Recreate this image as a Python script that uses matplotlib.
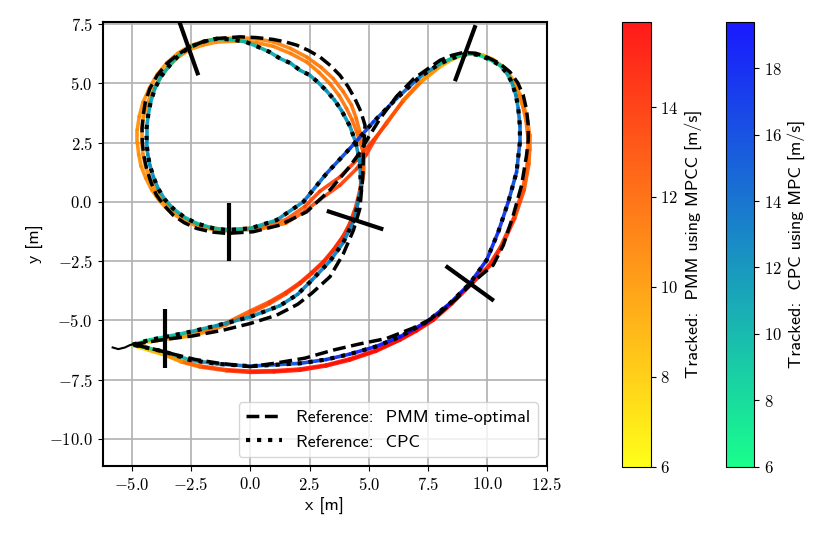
import numpy as np
import matplotlib
matplotlib.use("Agg")
import matplotlib.pyplot as plt
from matplotlib.collections import LineCollection
from matplotlib.lines import Line2D
from matplotlib.ticker import MultipleLocator, FuncFormatter

plt.rcParams['font.family'] = ['cmss10', 'DejaVu Sans']
plt.rcParams['mathtext.fontset'] = 'cm'
plt.rcParams['font.size'] = 13

# --- reference trajectories ---
pmm_ref_x = [-4.95, -4.23, -3.60, -2.40, -1.14, 0.00, 1.11, 2.00, 2.60, 3.36,
             3.92, 4.35, 4.62, 4.74, 4.78, 4.84, 4.66, 4.41, 4.12, 3.78,
             3.38, 2.94, 2.45, 1.96, 1.47, 0.97, 0.25, -0.43, -1.42, -2.00,
             -2.54, -3.05, -3.52, -3.92, -4.23, -4.42, -4.51, -4.56, -4.55, -4.49,
             -4.37, -4.19, -3.95, -3.63, -3.25, -2.78, -2.26, -1.63, -0.99, 0.13,
             1.25, 2.38, 3.36, 4.13, 4.60, 5.00, 5.50, 6.17, 6.90, 8.00,
             8.50, 8.98, 9.50, 9.97, 10.50, 10.95, 11.28, 11.51, 11.65, 11.72,
             11.72, 11.65, 11.44, 11.09, 10.67, 10.24, 9.35, 8.70, 7.86, 6.87,
             5.75, 4.62, 3.50, 2.31, 1.07, 0.00, -1.35, -2.30, -3.25, -4.23,
             -4.95]
pmm_ref_y = [-6.02, -5.90, -5.80, -5.65, -5.41, -5.13, -4.78, -4.32, -3.85, -3.16,
             -2.20, -1.20, -0.30, 1.00, 2.20, 3.23, 3.82, 4.36, 4.87, 5.34,
             5.75, 6.11, 6.39, 6.61, 6.75, 6.85, 6.93, 6.96, 6.89, 6.75,
             6.53, 6.22, 5.83, 5.33, 4.78, 4.22, 3.66, 3.10, 2.53, 1.97,
             1.41, 0.84, 0.28, -0.15, -0.56, -0.88, -1.12, -1.27, -1.33, -1.26,
             -0.98, -0.42, 0.50, 1.41, 2.05, 2.75, 3.55, 4.45, 5.20, 5.97,
             6.18, 6.30, 6.27, 6.11, 5.85, 5.48, 5.02, 4.50, 3.88, 3.23,
             2.60, 1.97, 0.70, -0.56, -1.83, -2.67, -3.42, -4.07, -4.82, -5.32,
             -5.76, -5.99, -6.25, -6.59, -6.80, -6.95, -6.80, -6.65, -6.42, -6.17,
             -6.02]

cpc_x = [-4.95, -4.23, -3.60, -2.54, -1.42, 0.00, 1.25, 2.00, 2.60, 3.36,
         3.92, 4.41, 4.67, 4.62, 4.45, 4.20, 3.85, 3.55, 3.20, 2.85,
         2.50, 2.10, 1.70, 1.25, 0.80, 0.30, -0.20, -0.80, -1.42, -2.00,
         -2.54, -3.00, -3.39, -3.75, -4.02, -4.20, -4.30, -4.37, -4.37, -4.32,
         -4.23, -4.08, -3.88, -3.60, -3.25, -2.80, -2.26, -1.60, -0.99, 0.00,
         1.11, 2.24, 3.22, 4.20, 5.19, 6.17, 7.15, 8.00, 8.50, 8.98,
         9.35, 9.68, 10.10, 10.53, 10.80, 11.02, 11.20, 11.30, 11.37, 11.37,
         11.23, 10.88, 10.46, 9.97, 9.26, 8.42, 7.44, 6.31, 5.30, 4.20,
         3.20, 2.10, 0.00, -1.42, -2.54, -3.60, -4.95]
cpc_y = [-6.02, -5.82, -5.70, -5.48, -5.22, -4.85, -4.38, -3.90, -3.30, -2.50,
         -1.72, -0.70, 0.60, 1.69, 2.50, 3.20, 3.85, 4.30, 4.70, 5.05,
         5.35, 5.55, 5.85, 6.05, 6.33, 6.55, 6.75, 6.85, 6.88, 6.75,
         6.53, 6.20, 5.76, 5.30, 4.78, 4.20, 3.66, 3.10, 2.53, 2.00,
         1.55, 1.05, 0.56, 0.10, -0.28, -0.63, -0.91, -1.10, -1.19, -1.12,
         -0.77, 0.00, 1.20, 2.25, 3.37, 4.36, 5.27, 5.83, 6.05, 6.21,
         6.24, 6.18, 6.00, 5.76, 5.45, 5.06, 4.50, 3.94, 3.20, 2.53,
         1.26, 0.00, -1.26, -2.45, -3.44, -4.28, -5.06, -5.69, -6.10, -6.42,
         -6.65, -6.81, -6.93, -6.83, -6.67, -6.32, -6.02]
cpc_speed = [6.2, 7.5, 9.0, 10.5, 11.5, 12.0, 12.5, 12.8, 13.0, 13.0,
             13.0, 12.8, 12.5, 12.3, 12.0, 12.0, 12.0, 11.9, 11.8, 11.7,
             11.5, 11.3, 11.0, 10.8, 10.5, 10.2, 9.8, 9.5, 9.2, 9.1,
             9.0, 9.2, 9.5, 10.0, 10.5, 11.0, 11.5, 11.8, 12.0, 12.0,
             12.0, 11.8, 11.5, 11.0, 10.5, 10.1, 9.8, 9.6, 9.5, 10.0,
             11.5, 13.0, 15.0, 16.5, 16.5, 15.5, 13.5, 10.5, 9.0, 7.5,
             7.2, 7.5, 8.2, 9.0, 10.0, 11.0, 12.0, 13.0, 14.0, 14.5,
             15.5, 16.5, 17.5, 18.0, 18.5, 19.0, 19.2, 19.0, 18.5, 18.0,
             17.0, 16.0, 14.5, 13.0, 11.0, 9.0, 6.5]

# --- tracked PMM (MPCC), two laps ---
lap1_x = [-4.95, -4.23, -3.60, -2.54, -1.80, -1.00, 0.00, 0.80, 1.50, 2.10,
          2.60, 3.10, 3.50, 3.92, 4.20, 4.45, 4.62, 4.72, 4.76,
          4.62, 4.47, 4.27, 3.92, 3.50, 2.98, 2.38, 1.70, 0.97, 0.25,
          -0.43, -1.42, -2.00, -2.54, -3.05, -3.50, -3.92, -4.25, -4.52, -4.68,
          -4.76, -4.76, -4.70, -4.60, -4.40, -4.15, -3.83, -3.45, -2.92, -2.30,
          -1.60, -0.90, 0.40, 1.50, 2.30, 2.94, 3.78, 4.49, 4.90, 5.30,
          5.75, 6.45, 7.20, 8.00, 8.50, 9.00, 9.40, 9.80, 10.22, 10.60,
          10.92, 11.15, 11.38, 11.55, 11.70, 11.78, 11.78, 11.75, 11.55, 11.15,
          10.60, 10.10,
          9.30, 8.50, 7.72, 7.00, 6.31, 5.30, 4.20, 3.20, 2.10, 1.00,
          0.00, -1.00, -2.12, -2.90, -3.60, -4.30, -4.95]
lap1_y = [-6.02, -5.90, -5.80, -5.66, -5.47, -5.18, -4.70, -4.30, -3.88, -3.45,
          -3.02, -2.55, -2.05, -1.45, -0.90, -0.20, 0.50, 1.20, 2.04,
          2.95, 3.52, 4.08, 4.65, 5.20, 5.68, 6.11, 6.47, 6.75, 6.88,
          6.92, 6.88, 6.76, 6.58, 6.27, 5.88, 5.38, 4.80, 4.20, 3.60,
          3.05, 2.50, 2.00, 1.50, 1.00, 0.50, 0.05, -0.35, -0.72, -1.00,
          -1.16, -1.22, -1.15, -0.90, -0.40, 0.10, 0.70, 1.40, 2.00, 2.70,
          3.35, 4.25, 5.05, 5.70, 6.00, 6.20, 6.26, 6.20, 6.02, 5.75,
          5.40, 5.00, 4.52, 4.00, 3.40, 2.80, 2.20, 1.60, 0.50, -0.70,
          -1.90, -2.70,
          -3.50, -4.30, -4.99, -5.45, -5.83, -6.30, -6.67, -6.92, -7.10, -7.17,
          -7.19, -7.12, -6.96, -6.75, -6.46, -6.25, -6.05]
lap1_speed = [6.5, 8.0, 9.5, 10.5, 11.0, 11.8, 12.5, 13.0, 13.5, 13.8,
              14.0, 14.2, 14.2, 14.0, 13.8, 13.5, 13.0, 12.5, 12.0,
              11.8, 11.6, 11.5, 11.5, 11.5, 11.4, 11.3, 11.1, 11.0, 10.9,
              10.8, 10.5, 10.4, 10.3, 10.3, 10.3, 10.4, 10.5, 10.5, 10.5,
              10.5, 10.5, 10.5, 10.5, 10.5, 10.5, 10.5, 10.5, 10.6, 10.8,
              10.9, 11.0, 11.5, 12.0, 12.8, 13.2, 13.5, 13.8, 13.8, 13.5,
              13.0, 12.0, 11.0, 9.5, 9.0, 8.5, 8.4, 8.5, 9.0, 9.5,
              10.0, 10.5, 10.8, 11.0, 11.3, 11.5, 11.8, 12.0, 12.8, 13.5,
              14.2, 14.6,
              15.0, 15.3, 15.5, 15.5, 15.5, 15.4, 15.3, 15.2, 15.0, 14.8,
              14.5, 13.8, 12.5, 11.0, 9.5, 8.0, 6.8]

lap2_x = [-4.95, -4.23, -3.60, -2.54, -1.80, -1.00, 0.00, 0.80, 1.50, 2.10,
          2.60, 3.10, 3.52, 3.95, 4.25, 4.50, 4.68, 4.78, 4.80,
          4.49, 4.30, 4.06, 3.75, 3.36, 2.90, 2.38, 1.70, 0.97, 0.25,
          -0.43, -1.42, -2.00, -2.54, -3.00, -3.42, -3.75, -4.07, -4.33, -4.50,
          -4.57, -4.57, -4.52, -4.42, -4.23, -4.00, -3.70, -3.33, -2.85, -2.25,
          -1.58, -0.90, 0.40, 1.50, 2.30, 2.94, 3.78, 4.49, 4.77, 5.19,
          5.75, 6.45, 7.20, 8.00, 8.50, 9.00, 9.40, 9.80, 10.22, 10.60,
          10.90, 11.12, 11.33, 11.50, 11.63, 11.70, 11.70, 11.68, 11.48, 11.10,
          10.55, 10.05,
          9.28, 8.48, 7.70, 7.00, 6.31, 5.30, 4.20, 3.20, 2.10, 1.00,
          0.00, -1.00, -2.12, -2.90, -3.60, -4.30, -4.95]
lap2_y = [-6.02, -5.86, -5.76, -5.60, -5.40, -5.10, -4.60, -4.22, -3.82, -3.40,
          -2.97, -2.50, -2.00, -1.40, -0.85, -0.15, 0.50, 1.20, 2.00,
          2.95, 3.45, 3.94, 4.48, 4.99, 5.46, 5.90, 6.26, 6.56, 6.72,
          6.79, 6.74, 6.61, 6.43, 6.13, 5.75, 5.30, 4.75, 4.18, 3.60,
          3.05, 2.50, 2.00, 1.50, 1.00, 0.50, 0.07, -0.30, -0.67, -0.95,
          -1.11, -1.17, -1.08, -0.75, -0.20, 0.45, 1.05, 1.76, 2.11, 2.60,
          3.30, 4.29, 5.10, 5.75, 6.05, 6.22, 6.25, 6.18, 5.98, 5.70,
          5.35, 4.95, 4.48, 4.00, 3.40, 2.80, 2.20, 1.60, 0.50, -0.70,
          -1.90, -2.70,
          -3.48, -4.28, -4.95, -5.40, -5.80, -6.26, -6.62, -6.88, -7.05, -7.12,
          -7.14, -7.08, -6.92, -6.72, -6.43, -6.23, -6.04]
lap2_speed = [6.5, 8.2, 9.6, 10.6, 11.1, 11.9, 12.6, 13.1, 13.6, 13.9,
              14.1, 14.3, 14.3, 14.1, 13.9, 13.6, 13.1, 12.6, 12.2,
              11.8, 11.7, 11.6, 11.5, 11.4, 11.3, 11.2, 11.1, 11.0, 10.9,
              10.8, 10.6, 10.5, 10.4, 10.4, 10.4, 10.4, 10.5, 10.5, 10.6,
              10.6, 10.6, 10.6, 10.6, 10.6, 10.6, 10.6, 10.6, 10.7, 10.9,
              11.0, 11.2, 11.7, 12.3, 13.0, 13.4, 13.8, 14.0, 14.0, 13.7,
              13.2, 12.2, 11.0, 9.6, 9.1, 8.6, 8.5, 8.6, 9.1, 9.6,
              10.1, 10.6, 10.9, 11.2, 11.4, 11.7, 11.9, 12.2, 12.9, 13.6,
              14.3, 14.7,
              15.0, 15.4, 15.6, 15.6, 15.6, 15.5, 15.4, 15.3, 15.1, 14.9,
              14.6, 13.9, 12.6, 11.1, 9.6, 8.1, 7.0]

# start segment
start_x = [-5.80, -5.56, -5.28, -5.07, -4.93]
start_y = [-6.14, -6.21, -6.14, -6.04, -6.00]

# gates (end points)
gate_x0 = [-3.03, -0.89, 3.23, 9.50, 8.24, -3.60]
gate_y0 = [7.72, -0.05, -0.38, 7.45, -2.70, -4.52]
gate_x1 = [-2.19, -0.89, 5.61, 8.63, 10.27, -3.60]
gate_y1 = [5.34, -2.50, -1.16, 5.09, -4.17, -7.02]

pmm_vmin, pmm_vmax = 6.0, 15.9
cpc_vmin, cpc_vmax = 6.0, 19.4


def colored_line(ax, x, y, v, cmap, vmin, vmax, z):
    pts = np.column_stack([x, y]).reshape(-1, 1, 2)
    segs = np.concatenate([pts[:-1], pts[1:]], axis=1)
    v = np.asarray(v)
    lc = LineCollection(segs, cmap=cmap, norm=plt.Normalize(vmin, vmax),
                        linewidth=2.6, alpha=0.9, capstyle='round',
                        joinstyle='round', zorder=z)
    lc.set_array((v[:-1] + v[1:]) / 2)
    ax.add_collection(lc)
    return lc


math_fmt = FuncFormatter(lambda v, p: '$%.1f$' % v)
int_fmt = FuncFormatter(lambda v, p: '$%d$' % round(v))

fig = plt.figure(figsize=(8.3, 5.4), dpi=100)
ax = fig.add_axes([0.1237, 0.137, 0.535, 0.822])

lc_pmm = colored_line(ax, lap1_x, lap1_y, lap1_speed, 'autumn_r', pmm_vmin, pmm_vmax, 2)
colored_line(ax, lap2_x, lap2_y, lap2_speed, 'autumn_r', pmm_vmin, pmm_vmax, 2)
lc_cpc = colored_line(ax, cpc_x, cpc_y, cpc_speed, 'winter_r', cpc_vmin, cpc_vmax, 2.2)

ax.plot(pmm_ref_x, pmm_ref_y, color='k', ls='--', lw=2.5, zorder=3,
        dash_joinstyle='round')
ax.plot(cpc_x, cpc_y, color='k', ls=':', lw=3, zorder=3.1, dash_joinstyle='round')
ax.plot(start_x, start_y, color='k', lw=1.5, zorder=3.2)

for i in range(len(gate_x0)):
    ax.plot([gate_x0[i], gate_x1[i]], [gate_y0[i], gate_y1[i]], color='k', lw=3,
            solid_capstyle='butt', zorder=4)

ax.set_xlim(-6.22, 12.5)
ax.set_ylim(-11.14, 7.58)
ax.xaxis.set_major_locator(MultipleLocator(2.5))
ax.yaxis.set_major_locator(MultipleLocator(2.5))
ax.xaxis.set_major_formatter(math_fmt)
ax.yaxis.set_major_formatter(math_fmt)
ax.tick_params(labelsize=12)
ax.grid(True, color='#b0b0b0', lw=1.2)
ax.set_axisbelow(True)
ax.set_xlabel('x [m]')
ax.set_ylabel('y [m]')
for s in ax.spines.values():
    s.set_linewidth(1.5)

handles = [Line2D([], [], color='k', ls='--', lw=2.5),
           Line2D([], [], color='k', ls=':', lw=3)]
ax.legend(handles, ['Reference:  PMM time-optimal', 'Reference:  CPC'],
          loc='lower right', fontsize=13)

cax1 = fig.add_axes([0.749, 0.1358, 0.035, 0.824])
cb1 = fig.colorbar(lc_pmm, cax=cax1)
cb1.set_ticks([6, 8, 10, 12, 14])
cb1.ax.yaxis.set_major_formatter(int_fmt)
cb1.ax.tick_params(labelsize=12)
cb1.set_label('Tracked:  PMM using MPCC [m/s]')

cax2 = fig.add_axes([0.8747, 0.1358, 0.0341, 0.824])
cb2 = fig.colorbar(lc_cpc, cax=cax2)
cb2.set_ticks([6, 8, 10, 12, 14, 16, 18])
cb2.ax.yaxis.set_major_formatter(int_fmt)
cb2.ax.tick_params(labelsize=12)
cb2.set_label('Tracked:  CPC using MPC [m/s]')

fig.savefig('out.png', dpi=100)
